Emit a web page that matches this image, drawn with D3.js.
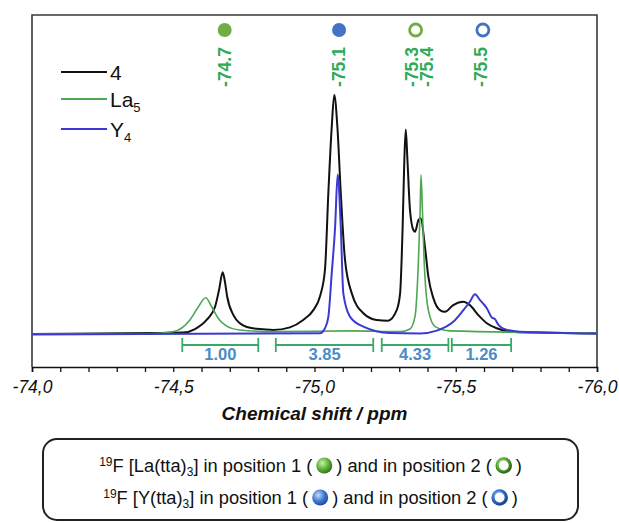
<!DOCTYPE html>
<html>
<head>
<meta charset="utf-8">
<script src="https://cdn.jsdelivr.net/npm/d3@7/dist/d3.min.js"></script>
<style>
body { margin: 0; background: #fff; }
text { font-family: Arial, "Liberation Sans", sans-serif; }
</style>
</head>
<body>
<div id="chart"></div>
<script>
// spectra: [ppm, intensity] (a.u., main peak of 4 = 100)
const spec4 = [
  [-74.000, 0], [-74.241, 0.2], [-74.418, 0.4], [-74.535, 0.6], [-74.577, 2.1],
  [-74.618, 5.9], [-74.648, 11.4], [-74.662, 18.4], [-74.675, 25.8], [-74.683, 21.8],
  [-74.691, 15.6], [-74.713, 7.9], [-74.736, 4.5], [-74.772, 2.6], [-74.819, 2.0],
  [-74.854, 1.7], [-74.913, 2.8], [-74.960, 5.9], [-74.996, 10.0], [-75.019, 15.6],
  [-75.037, 26.8], [-75.049, 59.0], [-75.061, 86.7], [-75.070, 100], [-75.081, 86.7],
  [-75.093, 59.0], [-75.108, 31.0], [-75.132, 17.0], [-75.173, 8.7], [-75.220, 5.9],
  [-75.260, 5.6], [-75.291, 10.0], [-75.303, 17.0], [-75.312, 44.9], [-75.318, 72.8],
  [-75.323, 85.6], [-75.329, 72.8], [-75.338, 51.9], [-75.350, 43.5], [-75.356, 42.8],
  [-75.368, 47.7], [-75.376, 48.4], [-75.391, 36.5], [-75.403, 24.0], [-75.421, 14.9],
  [-75.444, 10.0], [-75.462, 9.3], [-75.491, 12.1], [-75.527, 13.5], [-75.550, 12.1],
  [-75.580, 7.9], [-75.610, 4.5], [-75.645, 2.4], [-75.692, 1.0], [-75.798, 0.6],
  [-76.000, 0.2]
];
const specLa5 = [
  [-74.000, 0], [-74.418, 0.2], [-74.500, 1.0], [-74.559, 5.9], [-74.589, 11.4],
  [-74.615, 15.2], [-74.636, 11.4], [-74.659, 6.6], [-74.689, 3.3], [-74.736, 1.7],
  [-74.854, 1.0], [-75.126, 1.3], [-75.303, 1.0], [-75.338, 2.1], [-75.356, 7.5],
  [-75.368, 31.0], [-75.374, 51.9], [-75.377, 66.5], [-75.382, 51.9], [-75.388, 31.0],
  [-75.403, 10.0], [-75.427, 3.1], [-75.480, 1.3], [-76.000, 0.4]
];
const specY4 = [
  [-74.000, -0.2], [-75.019, 0.3], [-75.037, 2.4], [-75.049, 7.2], [-75.061, 25.4],
  [-75.073, 44.9], [-75.082, 66.8], [-75.093, 44.9], [-75.102, 17.0], [-75.126, 7.2],
  [-75.173, 3.1], [-75.267, 0.4], [-75.373, 0.2], [-75.433, 1.4], [-75.491, 5.1],
  [-75.527, 10.0], [-75.550, 13.5], [-75.568, 16.6], [-75.586, 14.2], [-75.598, 12.6],
  [-75.610, 10.8], [-75.627, 7.0], [-75.639, 6.2], [-75.651, 3.8], [-75.674, 2.0],
  [-75.727, 1.0], [-76.000, 0.2]
];

const seriesNames = ["4", "La", "Y"];
const seriesSubs = ["", "5", "4"];
const seriesColors = ["#111111", "#4ea653", "#3a3ad0"];

const majorTicks = [-74.0, -74.5, -75.0, -75.5, -76.0];
const minorTicks = [-74.1, -74.2, -74.3, -74.4, -74.6, -74.7, -74.8, -74.9,
                    -75.1, -75.2, -75.3, -75.4, -75.6, -75.7, -75.8, -75.9];

const peakLabels = ["-74.7", "-75.1", "-75.3", "-75.4", "-75.5"];
const peakLabelPos = [-74.682, -75.087, -75.343, -75.399, -75.589];
const markerPos = [-74.682, -75.087, -75.358, -75.596];
const markerMetal = ["La", "Y", "La", "Y"];
const markerFilled = [true, true, false, false];

const integralFrom = [-74.532, -74.863, -75.238, -75.486];
const integralTo = [-74.801, -75.208, -75.474, -75.696];
const integralValues = ["1.00", "3.85", "4.33", "1.26"];

const W = 619, H = 523;
const mLeft = 32, mRight = 597, mTop = 15, mBottom = 367;

const svg = d3.select("#chart").append("svg")
    .attr("width", W)
    .attr("height", H);

const x = d3.scaleLinear().domain([-74, -76]).range([mLeft, mRight]);
const y = d3.scaleLinear().domain([-13.8, 133.5]).range([mBottom, mTop]);

// gradients for the little spheres
const defs = svg.append("defs");
function sphere(id, c0, c1, c2) {
    const g = defs.append("radialGradient").attr("id", id)
        .attr("cx", "38%").attr("cy", "35%").attr("r", "70%");
    g.append("stop").attr("offset", "0%").attr("stop-color", c0);
    g.append("stop").attr("offset", "55%").attr("stop-color", c1);
    g.append("stop").attr("offset", "100%").attr("stop-color", c2);
}
sphere("gLa", "#c9f0a6", "#5fb23a", "#2f6d1a");
sphere("gY", "#c4dcff", "#3f7bd0", "#1c4592");

// frame
svg.append("path")
    .attr("d", `M${mLeft},${mBottom}V${mTop}H${mRight}V${mBottom}`)
    .attr("fill", "none")
    .attr("stroke", "#3a3a3a")
    .attr("stroke-width", 1.6);

// x axis
const fmt = d => d3.format(".1f")(d).replace(".", ",").replace("−", "-");
const xAxis = svg.append("g")
    .attr("transform", `translate(0,${mBottom})`)
    .call(d3.axisBottom(x).tickValues(majorTicks).tickFormat(fmt).tickSize(5).tickPadding(9));
svg.append("g")
    .attr("transform", `translate(0,${mBottom})`)
    .call(d3.axisBottom(x).tickValues(minorTicks).tickFormat("").tickSize(5))
    .select(".domain").remove();
svg.selectAll(".tick line").attr("stroke", "#111").attr("stroke-width", 1.3);
xAxis.select(".domain").attr("stroke", "#111").attr("stroke-width", 1.6);
xAxis.selectAll("text")
    .style("font-size", "17.5px")
    .style("font-style", "italic")
    .attr("fill", "#111");

svg.append("text")
    .attr("x", (mLeft + mRight) / 2)
    .attr("y", 420)
    .attr("text-anchor", "middle")
    .style("font-size", "19px")
    .style("font-weight", "bold")
    .style("font-style", "italic")
    .attr("fill", "#111")
    .text("Chemical shift / ppm");

// spectra
const line = d3.line()
    .x(d => x(d[0]))
    .y(d => y(d[1]))
    .curve(d3.curveMonotoneX);

[spec4, specLa5, specY4].forEach((s, i) => {
    svg.append("path")
        .datum(s)
        .attr("fill", "none")
        .attr("stroke", seriesColors[i])
        .attr("stroke-width", i == 1 ? 1.6 : 2)
        .attr("stroke-linejoin", "round")
        .attr("d", line);
});

// legend
seriesNames.forEach((name, i) => {
    const ly = [72, 99, 129][i];
    svg.append("line")
        .attr("x1", 61).attr("x2", 107)
        .attr("y1", ly).attr("y2", ly)
        .attr("stroke", seriesColors[i])
        .attr("stroke-width", 1.8);
    const t = svg.append("text")
        .attr("x", 110)
        .attr("y", ly + 8)
        .style("font-size", "21px")
        .attr("fill", "#111");
    t.append("tspan").text(name);
    if (seriesSubs[i])
        t.append("tspan").attr("dy", 5).style("font-size", "13px").text(seriesSubs[i]);
});

// peak markers and labels at the top
markerPos.forEach((p, i) => {
    const col = markerMetal[i] == "La" ? "#70ad47" : "#4472c4";
    svg.append("circle")
        .attr("cx", x(p)).attr("cy", 30)
        .attr("r", markerFilled[i] ? 7 : 6)
        .attr("fill", markerFilled[i] ? col : "#fff")
        .attr("stroke", col)
        .attr("stroke-width", markerFilled[i] ? 0 : 2.8);
});
peakLabels.forEach((lab, i) => {
    svg.append("text")
        .attr("transform", `translate(${x(peakLabelPos[i])},67) rotate(-90)`)
        .attr("text-anchor", "middle")
        .attr("dy", "0.35em")
        .style("font-size", "17.5px")
        .style("font-weight", "bold")
        .attr("fill", "#2eaa58")
        .text(lab);
});

// integrals
integralValues.forEach((v, i) => {
    const x0 = x(integralFrom[i]), x1 = x(integralTo[i]);
    const g = svg.append("g").attr("stroke", "#3aa866").attr("stroke-width", 1.8);
    g.append("line").attr("x1", x0).attr("x2", x1).attr("y1", 345).attr("y2", 345);
    g.append("line").attr("x1", x0).attr("x2", x0).attr("y1", 338).attr("y2", 352);
    g.append("line").attr("x1", x1).attr("x2", x1).attr("y1", 338).attr("y2", 352);
    svg.append("text")
        .attr("x", (x0 + x1) / 2)
        .attr("y", 360)
        .attr("text-anchor", "middle")
        .style("font-size", "16.5px")
        .style("font-weight", "bold")
        .attr("fill", "#4a8cc4")
        .text(v);
});

// explanation box
svg.append("rect")
    .attr("x", 43).attr("y", 439)
    .attr("width", 535).attr("height", 81)
    .attr("rx", 14)
    .attr("fill", "none")
    .attr("stroke", "#222")
    .attr("stroke-width", 2);

function boxLine(by, metal, grad) {
    const g = svg.append("g");
    let cx = 0;
    function addText(build) {
        const t = g.append("text").attr("x", cx).attr("y", by)
            .style("font-size", "18.3px").attr("fill", "#111");
        build(t);
        cx += t.node().getComputedTextLength();
    }
    function addBall(filled) {
        cx += 4;
        g.append("circle")
            .attr("cx", cx + 8).attr("cy", by - 6.5)
            .attr("r", filled ? 8 : 6.6)
            .attr("fill", filled ? `url(#${grad})` : "#fff")
            .attr("stroke", `url(#${grad})`)
            .attr("stroke-width", filled ? 0 : 3.4);
        cx += 16 + 4;
    }
    addText(t => {
        t.append("tspan").style("font-size", "12px").attr("dy", -6.5).text("19");
        t.append("tspan").attr("dy", 6.5).text(`F [${metal}(tta)`);
        t.append("tspan").style("font-size", "12px").attr("dy", 4).text("3");
        t.append("tspan").attr("dy", -4).text("] in position 1 (");
    });
    addBall(true);
    addText(t => t.text(") and in position 2 ("));
    addBall(false);
    addText(t => t.text(")"));
    g.attr("transform", `translate(${310.5 - cx / 2},0)`);
}
boxLine(472, "La", "gLa");
boxLine(504, "Y", "gY");
</script>
</body>
</html>
